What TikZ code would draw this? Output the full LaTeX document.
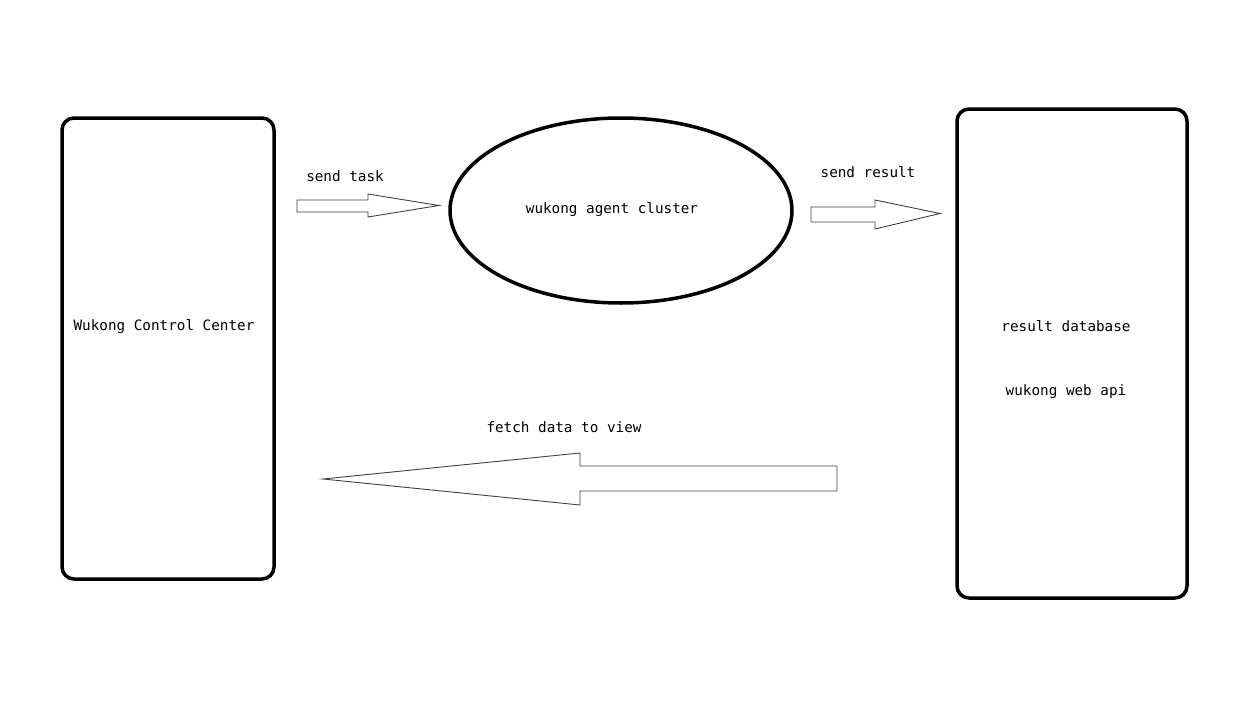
\documentclass[tikz,border=0pt]{standalone}
\usepackage{fontspec}
\setmonofont{DejaVu Sans Mono}
\usetikzlibrary{shapes.geometric}

\tikzset{
    box/.style={draw, line width=3.5pt, rounded corners=12pt, minimum width=#1},
    label/.style={font=\ttfamily\fontsize{14.3}{16}\selectfont, inner sep=0pt},
    blockarrow/.style={draw=black!75, line width=0.9pt, fill=white}
}

\begin{document}
\begin{tikzpicture}[x=1pt, y=-1pt]
    \useasboundingbox (0,0) rectangle (1240,704);

    % the three parts
    \node[box=212pt, minimum height=461pt] (center) at (168,348.5) {};
    \node[draw, ellipse, line width=3.5pt, minimum width=342pt, minimum height=185pt] (cluster) at (621,210.5) {};
    \node[box=230pt, minimum height=489pt] (result) at (1072,353.5) {};

    % texts
    \node[label] (centertxt) at (164,327) {Wukong Control Center};
    \node[label] (clustertxt) at (612,210) {wukong agent cluster};
    \node[label] (dbtxt) at (1066,326) {result database};
    \node[label] (apitxt) at (1066,392) {wukong web api};
    \node[label] (tasktxt) at (345,176) {send task};
    \node[label] (sendtxt) at (868,172) {send result};
    \node[label] (fetchtxt) at (564,427) {fetch data to view};

    % block arrows
    \draw[blockarrow] (297,200) -- (368,200) -- (368,194) -- (439,205.5)
        -- (368,217) -- (368,212) -- (297,212) -- cycle;
    \draw[blockarrow] (811,207) -- (875,207) -- (875,200) -- (940,213.5)
        -- (875,229) -- (875,222) -- (811,222) -- cycle;
    \draw[blockarrow] (837,466) -- (580,466) -- (580,453) -- (323,479)
        -- (580,505) -- (580,491) -- (837,491) -- cycle;
\end{tikzpicture}
\end{document}
